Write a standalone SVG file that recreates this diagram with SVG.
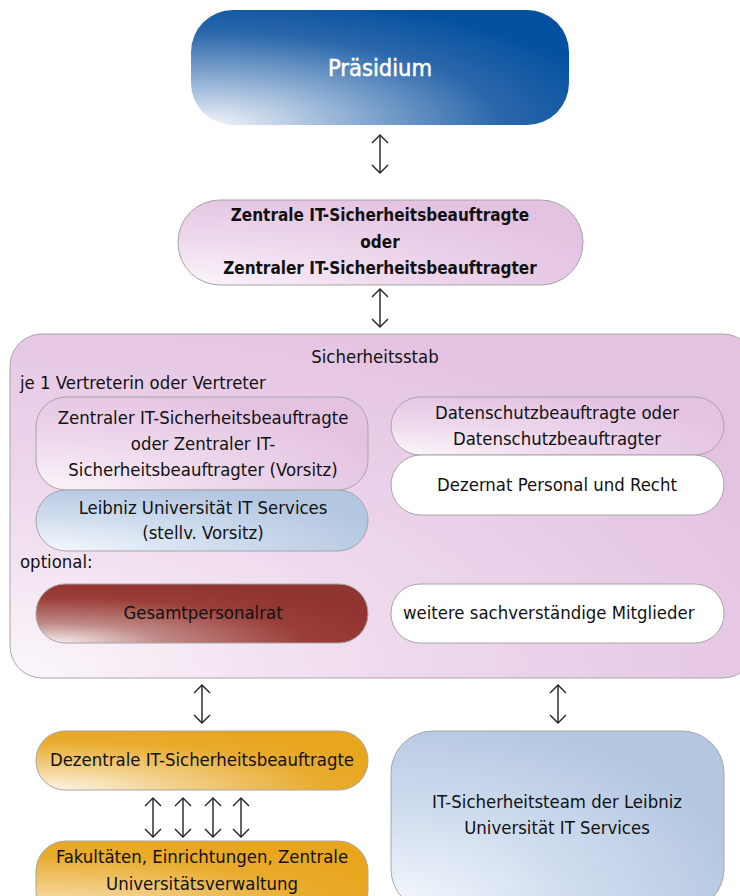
<svg xmlns="http://www.w3.org/2000/svg" width="740" height="896" viewBox="0 0 740 896">
<defs>
<radialGradient id="gBlue" cx="0" cy="1" r="1.15" fx="0.05" fy="1">
<stop offset="0" stop-color="#f2f4fa"/>
<stop offset="0.3" stop-color="#9ab7d8"/>
<stop offset="0.7" stop-color="#2a67ab"/>
<stop offset="1" stop-color="#0451a0"/>
</radialGradient>
<radialGradient id="gPink" cx="0" cy="1" r="1.1">
<stop offset="0" stop-color="#fbf6fb"/>
<stop offset="0.5" stop-color="#eed8ec"/>
<stop offset="1" stop-color="#e4c3e2"/>
</radialGradient>
<radialGradient id="gLight" cx="0" cy="1" r="1.1">
<stop offset="0" stop-color="#f6f9fd"/>
<stop offset="0.5" stop-color="#d0ddef"/>
<stop offset="1" stop-color="#b3c7e1"/>
</radialGradient>
<radialGradient id="gRed" cx="0.05" cy="1" r="1.1">
<stop offset="0" stop-color="#f6eeee"/>
<stop offset="0.3" stop-color="#c08a86"/>
<stop offset="0.7" stop-color="#9a3c37"/>
<stop offset="1" stop-color="#903431"/>
</radialGradient>
<radialGradient id="gOrange" cx="0.05" cy="1" r="1.1">
<stop offset="0" stop-color="#fcf4e6"/>
<stop offset="0.35" stop-color="#f2cf88"/>
<stop offset="0.75" stop-color="#e9ab2c"/>
<stop offset="1" stop-color="#e8a61f"/>
</radialGradient>
<marker id="ah" viewBox="0 0 20 20" refX="10" refY="10" markerWidth="20" markerHeight="20" markerUnits="userSpaceOnUse" orient="auto-start-reverse">
<path d="M2,2 L10,10 L2,18" fill="none" stroke="#222" stroke-width="1.4"/>
</marker>
<style>
.box{stroke:#a6a6a6;stroke-width:1}
.t{font-family:"DejaVu Sans Condensed","Liberation Sans",sans-serif;font-size:18.4px;fill:#111;text-anchor:middle}
.b{font-weight:bold;font-size:17px}
.w{fill:#fff;font-size:23.5px;stroke:#fff;stroke-width:0.5}
.l{text-anchor:start}
.ar{stroke:#222;stroke-width:1.4;fill:none;marker-start:url(#ah);marker-end:url(#ah)}
</style>
</defs>

<g id="praesidium">
<rect x="191" y="10" width="378" height="115" rx="42" fill="url(#gBlue)"/>
<text class="t w" x="380" y="76">Präsidium</text>
</g>

<g id="zentrale">
<rect class="box" x="178" y="200" width="405" height="85" rx="42" fill="url(#gPink)"/>
<text class="t b" x="380" y="221">Zentrale IT-Sicherheitsbeauftragte</text>
<text class="t b" x="380" y="248">oder</text>
<text class="t b" x="380" y="274">Zentraler IT-Sicherheitsbeauftragter</text>
</g>

<g id="sicherheitsstab">
<rect class="box" x="10" y="334" width="745" height="344" rx="32" fill="url(#gPink)"/>
<text class="t" x="375" y="363">Sicherheitsstab</text>
<text class="t l" x="20" y="389">je 1 Vertreterin oder Vertreter</text>
<text class="t l" x="20" y="568">optional:</text>
</g>

<g id="zentraler-vorsitz">
<rect class="box" x="36" y="397" width="332" height="93" rx="30" fill="url(#gPink)"/>
<text class="t" x="203" y="424">Zentraler IT-Sicherheitsbeauftragte</text>
<text class="t" x="203" y="450">oder Zentraler IT-</text>
<text class="t" x="203" y="476">Sicherheitsbeauftragter (Vorsitz)</text>
</g>

<g id="luis">
<rect class="box" x="36" y="490" width="332" height="61" rx="30" fill="url(#gLight)"/>
<text class="t" x="203" y="514">Leibniz Universität IT Services</text>
<text class="t" x="203" y="539">(stellv. Vorsitz)</text>
</g>

<g id="datenschutz">
<rect class="box" x="391" y="397" width="333" height="58" rx="29" fill="url(#gPink)"/>
<text class="t" x="557" y="419">Datenschutzbeauftragte oder</text>
<text class="t" x="557" y="445">Datenschutzbeauftragter</text>
</g>

<g id="dezernat">
<rect class="box" x="391" y="455" width="333" height="60" rx="30" fill="#fff"/>
<text class="t" x="557" y="491">Dezernat Personal und Recht</text>
</g>

<g id="gesamtpersonalrat">
<rect class="box" x="36" y="584" width="332" height="59" rx="29" fill="url(#gRed)"/>
<text class="t" x="203" y="619">Gesamtpersonalrat</text>
</g>

<g id="weitere">
<rect class="box" x="391" y="584" width="333" height="59" rx="29" fill="#fff"/>
<text class="t l" x="403" y="619">weitere sachverständige Mitglieder</text>
</g>

<g id="dezentrale">
<rect class="box" x="36" y="731" width="332" height="59" rx="29" fill="url(#gOrange)"/>
<text class="t" x="202" y="766">Dezentrale IT-Sicherheitsbeauftragte</text>
</g>

<g id="fakultaeten">
<rect class="box" x="36" y="841" width="332" height="80" rx="30" fill="url(#gOrange)"/>
<text class="t" x="202" y="863">Fakultäten, Einrichtungen, Zentrale</text>
<text class="t" x="202" y="890">Universitätsverwaltung</text>
</g>

<g id="it-sicherheitsteam">
<rect class="box" x="391" y="731" width="333" height="180" rx="42" fill="url(#gLight)"/>
<text class="t" x="557" y="808">IT-Sicherheitsteam der Leibniz</text>
<text class="t" x="557" y="834">Universität IT Services</text>
</g>

<g id="connectors">
<line class="ar" x1="380" y1="135" x2="380" y2="173"/>
<line class="ar" x1="380" y1="289" x2="380" y2="327"/>
<line class="ar" x1="202" y1="685" x2="202" y2="723"/>
<line class="ar" x1="558" y1="685" x2="558" y2="723"/>
<line class="ar" x1="153" y1="798" x2="153" y2="837"/>
<line class="ar" x1="183" y1="798" x2="183" y2="837"/>
<line class="ar" x1="213" y1="798" x2="213" y2="837"/>
<line class="ar" x1="241" y1="798" x2="241" y2="837"/>
</g>
</svg>
